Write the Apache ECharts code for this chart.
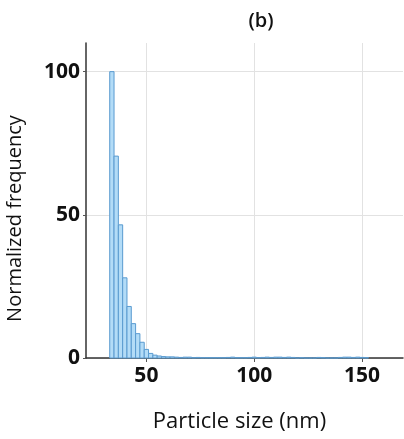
<!DOCTYPE html>
<html>
<head>
<meta charset="utf-8">
<script src="https://cdn.jsdelivr.net/npm/echarts@6/dist/echarts.min.js"></script>
<style>
html,body{margin:0;padding:0;background:#fff;}
#c{width:404px;height:439px;}
</style>
</head>
<body>
<div id="c"></div>
<script>
// Data (bin centres in nm, bin width 2 nm)
const binCenters = [34,36,38,40,42,44,46,48,50,52,54,56,58,60,62,64,66,68,70,72,74,76,78,80,82,84,86,88,90,92,94,96,98,100,102,104,106,108,110,112,114,116,118,120,122,124,126,128,130,132,134,136,138,140,142,144,146,148,150,152];
const frequency  = [100,70.5,46.5,28,18,12,8.5,5.5,3,1.6,1.0,0.7,0.5,0.4,0.4,0.3,0.2,0.3,0.3,0.1,0.2,0.1,0.1,0.1,0.1,0.1,0.1,0.2,0.3,0.1,0.1,0.1,0.2,0.3,0.1,0.2,0.3,0.2,0.3,0.3,0.2,0.3,0.2,0,0.1,0,0,0,0.2,0.1,0,0,0,0.2,0.3,0.3,0.2,0.3,0.2,0.1];
const binWidth = 2;
const xTicks = [50,100,150];
const yTicks = [0,50,100];
const title = '(b)';
const xName = 'Particle size (nm)';
const yName = 'Normalized frequency';

const data = binCenters.map((c,i)=>[c-binWidth/2, c+binWidth/2, frequency[i]]);

const chart = echarts.init(document.getElementById('c'));
chart.setOption({
  animation:false,
  title:{text:title,left:256,top:6,textAlign:'center',textStyle:{fontFamily:'Open Sans',fontSize:20,fontWeight:600,color:'#111'}},
  grid:{left:86,top:43,right:1,bottom:81,containLabel:false,outerBoundsMode:'none'},
  xAxis:{
    type:'value',min:22,max:169,
    name:xName,nameLocation:'middle',nameGap:53,
    nameTextStyle:{fontFamily:'Open Sans',fontSize:22,color:'#111',padding:[0,10,0,0]},
    axisLine:{show:true,lineStyle:{color:'#333',width:1.5}},
    axisTick:{show:true,length:4,customValues:xTicks,lineStyle:{color:'#555'}},
    axisLabel:{customValues:xTicks,fontFamily:'Open Sans',fontSize:21,fontWeight:'bold',color:'#111',margin:8},
    splitLine:{show:true,lineStyle:{color:'#e2e2e2'}}
  },
  yAxis:{
    type:'value',min:0,max:110,
    name:yName,nameLocation:'middle',nameGap:61,
    nameTextStyle:{fontFamily:'Open Sans',fontSize:20,color:'#111',padding:[0,36,0,0]},
    axisLine:{show:true,lineStyle:{color:'#333',width:1.5}},
    axisTick:{show:true,length:3,customValues:yTicks,lineStyle:{color:'#555'}},
    axisLabel:{customValues:yTicks,fontFamily:'Open Sans',fontSize:21,fontWeight:'bold',color:'#111',margin:6},
    splitLine:{show:true,lineStyle:{color:'#e2e2e2'}}
  },
  series:[{
    type:'custom',
    data:data,
    renderItem:function(params,api){
      const p0 = api.coord([api.value(0), api.value(2)]);
      const p1 = api.coord([api.value(1), 0]);
      return {
        type:'rect',
        shape:{x:p0[0],y:p0[1],width:p1[0]-p0[0],height:p1[1]-p0[1]},
        style:{fill:'#b3dcf7',stroke:'#5a9bd0',lineWidth:1}
      };
    }
  }]
});
</script>
</body>
</html>
